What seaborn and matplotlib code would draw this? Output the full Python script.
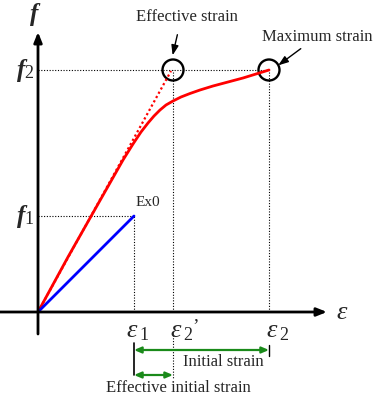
import matplotlib
matplotlib.use("Agg")
import matplotlib.pyplot as plt
from matplotlib.patches import Circle
import numpy as np
import pandas as pd
import seaborn as sns

# ---- data (arbitrary units: strain, stress) ----
eps1 = 96
eps2p = 135
eps2 = 231
f1 = 96
f2 = 242

curve_strain = [0, 30, 60, 85, 95, 103, 110, 116, 122, 128, 135, 143, 152, 162, 175, 190, 205, 218, 231]
curve_stress = [0, 55, 108, 152, 168, 180, 189, 196, 202, 207, 211, 215, 218.5, 222, 226, 230, 234, 238, 242]

ex0_strain = [0, eps1]
ex0_stress = [0, f1]

eff_strain = [0, eps2p]
eff_stress = [0, f2]

sns.set_theme(style="white")
plt.rcParams['font.family'] = ['Liberation Serif', 'DejaVu Serif']

fig = plt.figure(figsize=(3.74, 3.98), dpi=100)
ax = fig.add_axes([0, 0, 1, 1])

# guide lines (dotted)
dot = dict(color="black", lw=0.8, ls=(0, (1, 1.5)))
ax.plot([0, eps2], [f2, f2], **dot)
ax.plot([0, eps1], [f1, f1], **dot)
ax.plot([eps1, eps1], [0, f1], **dot)
ax.plot([eps2p, eps2p], [0, f2], **dot)
ax.plot([eps2, eps2], [0, f2], **dot)
ax.plot([eps2p, eps2p], [-23, -66], **dot)

# axes
ax.annotate("", xy=(289, 0), xytext=(-38, 0),
            arrowprops=dict(arrowstyle="-|>,head_length=0.5,head_width=0.2", lw=2, color="black", shrinkA=0, shrinkB=0))
ax.annotate("", xy=(0, 280), xytext=(0, -22),
            arrowprops=dict(arrowstyle="-|>,head_length=0.5,head_width=0.2", lw=2, color="black", shrinkA=0, shrinkB=0))

# dotted effective line
ax.plot([eff_strain[0], eff_strain[1] - 2], [eff_stress[0], eff_stress[1] - 1],
        color="red", lw=1.6, ls=(0, (1, 1.2)))

# curves
df_c = pd.DataFrame({"strain": curve_strain, "stress": curve_stress})
sns.lineplot(data=df_c, x="strain", y="stress", sort=False, color="red", lw=2.0, ax=ax)
df_b = pd.DataFrame({"strain": ex0_strain, "stress": ex0_stress})
sns.lineplot(data=df_b, x="strain", y="stress", sort=False, color="blue", lw=2.0, ax=ax)
ax.set_xlim(-38, 336)
ax.set_ylim(-86, 312)
ax.axis("off")

# circles
for cx in (eps2p, eps2):
    ax.add_patch(Circle((cx, f2), 10.5, fill=False, ec="black", lw=1.7))

# annotation arrows
ax.annotate("", xy=(134, 254), xytext=(140, 280),
            arrowprops=dict(arrowstyle="-|>,head_length=0.5,head_width=0.18", lw=1.0, color="black"))
ax.annotate("", xy=(238, 245), xytext=(265, 265),
            arrowprops=dict(arrowstyle="-|>,head_length=0.5,head_width=0.18", lw=1.0, color="black"))

ax.text(149, 295, "Effective strain", ha="center", va="center", fontsize=12)
ax.text(279, 275, "Maximum strain", ha="center", va="center", fontsize=12)
ax.text(110, 109, "Ex0", ha="center", va="center", fontsize=11)

# y labels
fkw = dict(ha="center", va="center", fontsize=18, fontweight="bold", fontstyle="italic")
ax.text(-4, 297, "f", **fkw)
ax.text(-17, 242, "f", **fkw)
ax.text(-9, 238, "2", ha="center", va="center", fontsize=13)
ax.text(-17, 96, "f", **fkw)
ax.text(-9, 92, "1", ha="center", va="center", fontsize=13)

# x labels
ekw = dict(ha="center", va="center", fontsize=19, fontstyle="italic")
ax.text(304, -1, "ε", **ekw)
ax.text(94, -19, "ε", **ekw)
ax.text(106, -23, "1", ha="center", va="center", fontsize=13)
ax.text(138, -19, "ε", **ekw)
ax.text(150, -23, "2", ha="center", va="center", fontsize=13)
ax.text(158, -15, "’", ha="center", va="center", fontsize=14)
ax.text(234, -19, "ε", **ekw)
ax.text(246, -23, "2", ha="center", va="center", fontsize=13)

# strain range arrows
green = "#1a8a1a"
ax.plot([eps1, eps1], [-31, -63], color="black", lw=1.2)
ax.plot([eps2, eps2], [-33, -44], color="black", lw=1.0)
ax.annotate("", xy=(eps2, -38), xytext=(eps1, -38),
            arrowprops=dict(arrowstyle="<|-|>,head_length=0.35,head_width=0.15", lw=1.6, color=green,
                            shrinkA=0, shrinkB=0))
ax.annotate("", xy=(eps2p, -63), xytext=(eps1, -63),
            arrowprops=dict(arrowstyle="<|-|>,head_length=0.35,head_width=0.15", lw=1.6, color=green,
                            shrinkA=0, shrinkB=0))
ax.text(185, -50, "Initial strain", ha="center", va="center", fontsize=12)
ax.text(140, -76, "Effective initial strain", ha="center", va="center", fontsize=12)

fig.savefig("out.png", dpi=100)
